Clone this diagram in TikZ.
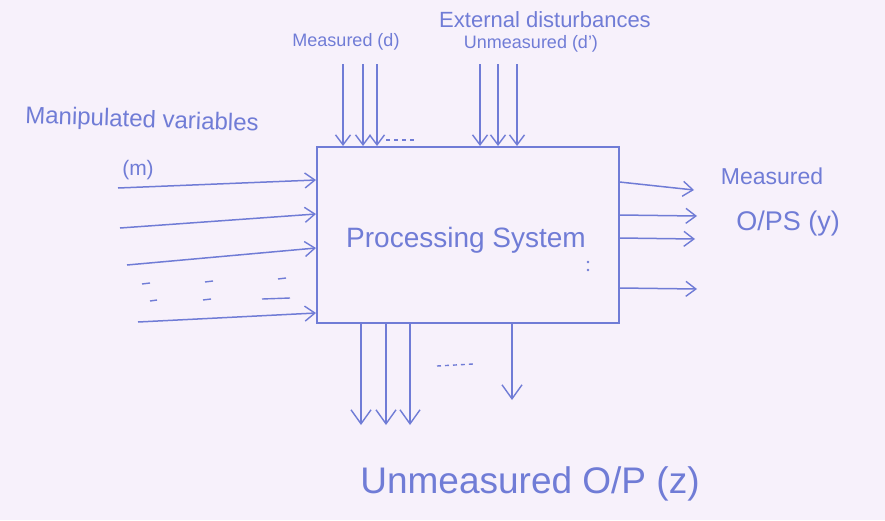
\documentclass[tikz,border=0pt]{standalone}
\usepackage{fontspec}
\setmainfont{Liberation Sans}
\usetikzlibrary{arrows.meta}
\definecolor{paper}{RGB}{247,241,251}
\definecolor{ink}{RGB}{112,124,214}

\begin{document}
\begin{tikzpicture}[x=1pt,y=-1pt,
  wire/.style={draw=ink,line width=1.5pt,
    -{Straight Barb[length=10pt,width=15pt,line width=1.4pt]}},
  bigwire/.style={wire,-{Straight Barb[length=14pt,width=20pt,line width=1.4pt]}},
  hand/.style={text=ink,inner sep=0pt},
  dots/.style={ink,line width=1.4pt,dash pattern=on 4pt off 4pt}]

% sheet
\fill[paper] (0,0) rectangle (885,520);
\useasboundingbox (0,0) rectangle (885,520);

% the process block
\node[draw=ink,line width=1.5pt,minimum width=302pt,minimum height=176pt,
      anchor=north west,inner sep=0pt] (sys) at (316,146) {};
\node[hand,font=\fontsize{28}{28}\selectfont] (title) at (466,240) {Processing System};

% manipulated inputs
\node[hand,font=\fontsize{24}{24}\selectfont,rotate=-2] (mlab) at (142,121) {Manipulated variables};
\node[hand,font=\fontsize{21}{21}\selectfont] (mm) at (138,170) {(m)};
\coordinate (m1) at (118,188);
\coordinate (m2) at (120,228);
\coordinate (m3) at (127,265);
\coordinate (m4) at (138,322);
\draw[wire] (m1) -- (sys.west |- 0,180);
\draw[wire] (m2) -- (sys.west |- 0,214);
\draw[wire] (m3) -- (sys.west |- 0,248);
\draw[wire] (m4) -- (sys.west |- 0,313);
\foreach \a/\b/\y in {142/150/284, 205/213/282, 278/286/279,
                      150/157/301, 203/211/300, 262/290/299}
  \draw[ink,line width=1.4pt] (\a,\y) -- (\b,\y-1);

% external disturbances
\node[hand,font=\fontsize{22}{22}\selectfont] (ext) at (545,20) {External disturbances};
\node[hand,font=\fontsize{18}{18}\selectfont] (dlab) at (346,42) {Measured (d)};
\node[hand,font=\fontsize{18}{18}\selectfont] (ulab) at (531,44) {Unmeasured (d')};
\foreach \n/\x in {d1/343,d2/363,d3/377,u1/480,u2/498,u3/517}
  \coordinate (\n) at (\x,64);
\foreach \n in {d1,d2,d3,u1,u2,u3}
  \draw[wire] (\n) -- (\n |- sys.north);
\draw[dots] (386,140) -- (414,140);

% measured outputs
\node[hand,font=\fontsize{23}{23}\selectfont] (ylab1) at (772,176) {Measured};
\node[hand,font=\fontsize{27}{27}\selectfont] (ylab2) at (788,224) {O/PS (y)};
\coordinate (y1) at (694,190);
\coordinate (y2) at (697,216);
\coordinate (y3) at (695,239);
\coordinate (y4) at (697,289);
\draw[wire] (sys.east |- 0,182) -- (y1);
\draw[wire] (sys.east |- 0,215) -- (y2);
\draw[wire] (sys.east |- 0,238) -- (y3);
\draw[wire] (sys.east |- 0,288) -- (y4);
\fill[ink] (588,262) circle (1.3pt) (588,270) circle (1.3pt);

% unmeasured outputs
\node[hand,font=\fontsize{37}{37}\selectfont] (zlab) at (530,484) {Unmeasured O/P (z)};
\coordinate (z1) at (361,425);
\coordinate (z2) at (386,425);
\coordinate (z3) at (410,425);
\coordinate (z4) at (512,400);
\foreach \n in {z1,z2,z3,z4}
  \draw[bigwire] (sys.south -| \n) -- (\n);
\draw[dots] (437,366) -- (473,364);
\end{tikzpicture}
\end{document}
